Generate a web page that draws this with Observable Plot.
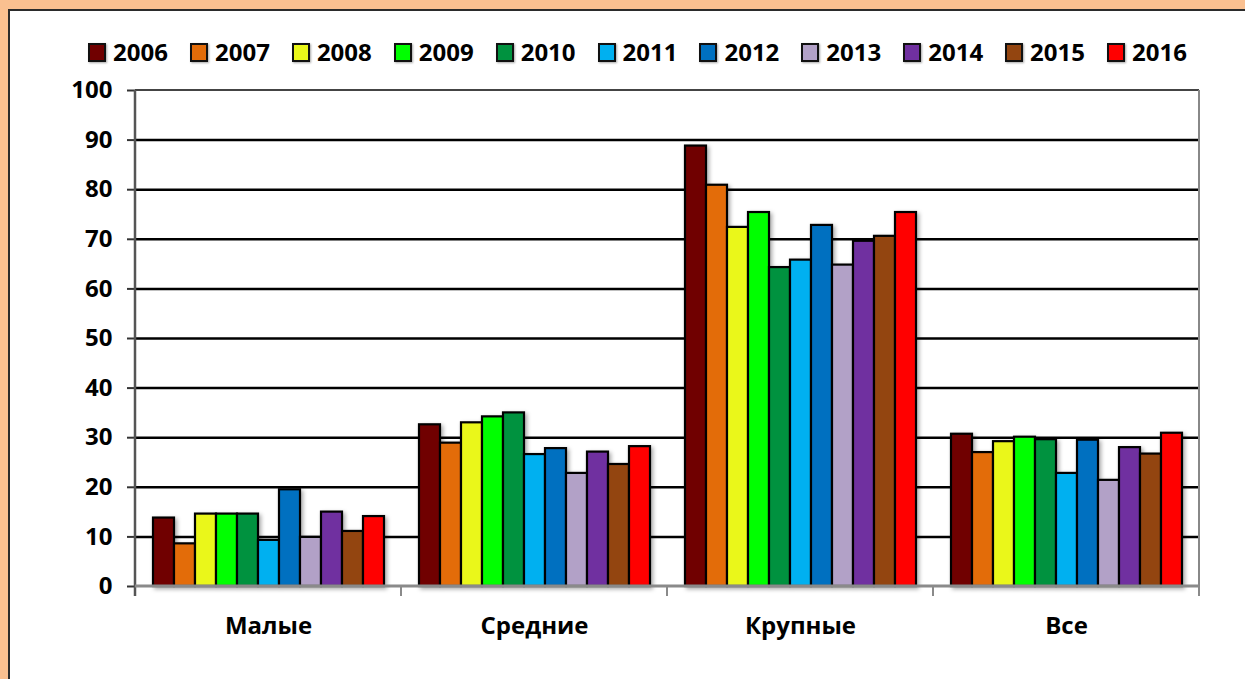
<!DOCTYPE html>
<html><head><meta charset="utf-8">
<script src="https://cdn.jsdelivr.net/npm/d3@7"></script>
<script src="https://cdn.jsdelivr.net/npm/@observablehq/plot@0.6"></script>
<style>
body{margin:0;width:1245px;height:679px;overflow:hidden;background:#FAC090;font-family:"Open Sans",sans-serif;position:relative;}
#panel{position:absolute;left:8px;top:9px;width:1300px;height:800px;background:#fff;border:2px solid #2b2b2b;}
#legend{position:absolute;left:0;top:38px;width:1275px;display:flex;justify-content:center;gap:22px;font-weight:700;font-size:24px;line-height:28px;color:#000;}
#legend .item{display:flex;align-items:center;gap:7px;}
#legend .sw{width:14px;height:15px;border:2px solid #111;box-shadow:1px 1px 2px rgba(0,0,0,.35);}
#chart{position:absolute;left:0;top:0;}
#chart svg g[aria-label="bar"]{filter:drop-shadow(2px 2px 2px rgba(0,0,0,.35));}
</style></head>
<body>
<div id="panel"></div>
<div id="legend"></div>
<div id="chart"></div>
<script>
const categories = ["Малые", "Средние", "Крупные", "Все"];
const years = ["2006","2007","2008","2009","2010","2011","2012","2013","2014","2015","2016"];
const colors = ["#700000","#E36C09","#EAF71A","#00FF00","#00923F","#00B0F0","#0070C0","#B2A1C7","#7030A0","#934510","#FF0000"];
const malye   = [13.8, 8.6, 14.6, 14.6, 14.6, 9.3, 19.5, 9.9, 15.0, 11.1, 14.1];
const srednie = [32.6, 28.9, 33.0, 34.2, 35.0, 26.6, 27.8, 22.8, 27.1, 24.6, 28.2];
const krupnye = [88.8, 80.9, 72.4, 75.4, 64.3, 65.8, 72.8, 64.8, 69.6, 70.6, 75.4];
const vse     = [30.7, 27.0, 29.2, 30.1, 29.6, 22.8, 29.5, 21.4, 28.0, 26.7, 30.9];
const yTicks = [0,10,20,30,40,50,60,70,80,90,100];

const series = [malye, srednie, krupnye, vse];
const rows = [];
categories.forEach((c, i) => years.forEach((y, j) => rows.push({cat: c, year: y, value: series[i][j]})));

// legend
const leg = document.getElementById("legend");
years.forEach((y, j) => {
  const it = document.createElement("div"); it.className = "item";
  const sw = document.createElement("div"); sw.className = "sw"; sw.style.background = colors[j];
  const t = document.createElement("span"); t.textContent = y;
  it.appendChild(sw); it.appendChild(t); leg.appendChild(it);
});

const plot = Plot.plot({
  width: 1245, height: 679,
  marginLeft: 133, marginRight: 45, marginTop: 90, marginBottom: 93,
  style: {background: "transparent", fontFamily: "'Open Sans', sans-serif", fontSize: "24px", fontWeight: 700, color: "#000", overflow: "visible"},
  fx: {domain: categories, padding: 0, label: null},
  x: {domain: years, paddingInner: 0, paddingOuter: 0.72, axis: null},
  y: {domain: [0, 100], label: null},
  color: {domain: years, range: colors},
  marks: [
    Plot.ruleY(yTicks.filter(d => d > 0 && d < 100), {stroke: "#000", strokeWidth: 2.5}),
    Plot.barY(rows, {fx: "cat", x: "year", y: "value", fill: "year", stroke: "#000", strokeWidth: 2.2}),
    Plot.axisY({ticks: yTicks, tickSize: 8, tickPadding: 15, label: null, stroke: "#333", strokeWidth: 2}),
    Plot.axisFx({anchor: "bottom", tickSize: 0, tickPadding: 30, label: null})
  ]
});
document.getElementById("chart").appendChild(plot);

// plot-area frame and category separator ticks, from the library's scales
const fx = plot.scale("fx"), ys = plot.scale("y");
const y0 = ys.apply(0), y100 = ys.apply(100);
const xl = fx.apply(categories[0]);
const xr = fx.apply(categories[categories.length - 1]) + fx.bandwidth;
const svg = d3.select(plot);
const g = svg.append("g");
g.append("line").attr("x1", xl).attr("x2", xr).attr("y1", y100).attr("y2", y100).attr("stroke", "#444").attr("stroke-width", 2);
g.append("line").attr("x1", xr).attr("x2", xr).attr("y1", y100).attr("y2", y0).attr("stroke", "#888").attr("stroke-width", 2);
g.append("line").attr("x1", xl).attr("x2", xl).attr("y1", y100).attr("y2", y0 + 10).attr("stroke", "#555").attr("stroke-width", 2.5);
g.append("line").attr("x1", xl).attr("x2", xr).attr("y1", y0).attr("y2", y0).attr("stroke", "#8a8a8a").attr("stroke-width", 3);
categories.forEach(c => {
  const xb = fx.apply(c) + fx.bandwidth;
  g.append("line").attr("x1", xb).attr("x2", xb).attr("y1", y0).attr("y2", y0 + 10).attr("stroke", "#8a8a8a").attr("stroke-width", 2);
});
</script>
</body></html>
